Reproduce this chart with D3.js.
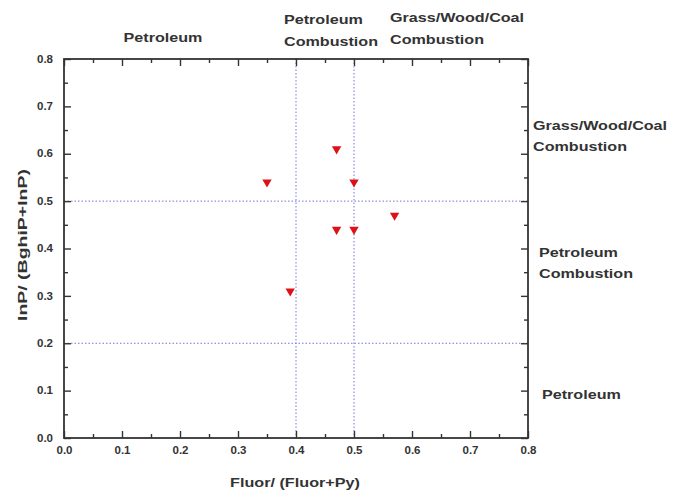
<!DOCTYPE html>
<html lang="en">
<head>
    <meta charset="UTF-8">
    <title>Fluor/(Fluor+Py) vs InP/(BghiP+InP)</title>
    <script src="https://d3js.org/d3.v7.min.js"></script>
    <style>
        body { margin: 0; background: #fff; }
        text { font-family: "Liberation Sans", Arial, sans-serif; font-weight: bold; fill: #333; }
    </style>
</head>
<body>
    <svg id="chart" width="673" height="499"></svg>
    <script>
        // ratio pairs
        const fluorRatio = [0.35, 0.39, 0.47, 0.47, 0.50, 0.50, 0.57];
        const inpRatio = [0.54, 0.31, 0.61, 0.44, 0.54, 0.44, 0.47];
        const xTicks = [0, 0.1, 0.2, 0.3, 0.4, 0.5, 0.6, 0.7, 0.8];
        const yTicks = [0, 0.1, 0.2, 0.3, 0.4, 0.5, 0.6, 0.7, 0.8];
        const xGuides = [0.4, 0.5];
        const yGuides = [0.2, 0.5];

        const svg = d3.select("#chart");
        const margin = { top: 59, right: 145, bottom: 61, left: 64 };
        const width = 673 - margin.left - margin.right;
        const height = 499 - margin.top - margin.bottom;
        const g = svg.append("g").attr("transform", `translate(${margin.left},${margin.top})`);

        const x = d3.scaleLinear().domain([0, 0.8]).range([0, width]);
        const y = d3.scaleLinear().domain([0, 0.8]).range([height, 0]);

        const minor = d3.range(0.05, 0.8, 0.1);

        // the exported figure is stretched sideways, so widen the text to match
        function stretch(sel, k) {
            sel.each(function () {
                const len = this.getComputedTextLength();
                d3.select(this).attr("textLength", len * k).attr("lengthAdjust", "spacingAndGlyphs");
            });
        }

        // guide lines
        g.selectAll(".vguide").data(xGuides).enter().append("line")
            .attr("x1", d => x(d)).attr("x2", d => x(d))
            .attr("y1", 0).attr("y2", height)
            .attr("stroke", "#7474e0").attr("stroke-width", 1).attr("stroke-dasharray", "1.5,2");
        g.selectAll(".hguide").data(yGuides).enter().append("line")
            .attr("y1", d => y(d)).attr("y2", d => y(d))
            .attr("x1", 0).attr("x2", width)
            .attr("stroke", "#7474e0").attr("stroke-width", 1).attr("stroke-dasharray", "1.5,2");

        // axes with inward ticks
        function styleAxis(sel) {
            sel.select(".domain").remove();
            sel.selectAll("line").attr("stroke", "#333").attr("stroke-width", 1.4);
            sel.selectAll("text").style("font-size", "10px").attr("fill", "#555").call(stretch, 1.15);
        }
        const fmt = d3.format(".1f");

        g.append("g").attr("transform", `translate(0,${height})`)
            .call(d3.axisBottom(x).tickValues(xTicks).tickFormat(fmt).tickSizeInner(-7).tickSizeOuter(0).tickPadding(9))
            .call(styleAxis);
        g.append("g").attr("transform", `translate(0,${height})`)
            .call(d3.axisBottom(x).tickValues(minor).tickFormat("").tickSizeInner(-4).tickSizeOuter(0))
            .call(styleAxis);
        g.append("g")
            .call(d3.axisTop(x).tickValues(xTicks).tickFormat("").tickSizeInner(-7).tickSizeOuter(0))
            .call(styleAxis);
        g.append("g")
            .call(d3.axisTop(x).tickValues(minor).tickFormat("").tickSizeInner(-4).tickSizeOuter(0))
            .call(styleAxis);

        g.append("g")
            .call(d3.axisLeft(y).tickValues(yTicks).tickFormat(fmt).tickSizeInner(-7).tickSizeOuter(0).tickPadding(11))
            .call(styleAxis);
        g.append("g")
            .call(d3.axisLeft(y).tickValues(minor).tickFormat("").tickSizeInner(-4).tickSizeOuter(0))
            .call(styleAxis);
        g.append("g").attr("transform", `translate(${width},0)`)
            .call(d3.axisRight(y).tickValues(yTicks).tickFormat("").tickSizeInner(-7).tickSizeOuter(0))
            .call(styleAxis);
        g.append("g").attr("transform", `translate(${width},0)`)
            .call(d3.axisRight(y).tickValues(minor).tickFormat("").tickSizeInner(-4).tickSizeOuter(0))
            .call(styleAxis);

        // frame
        g.append("rect")
            .attr("width", width).attr("height", height)
            .attr("fill", "none").attr("stroke", "#333").attr("stroke-width", 1.8);

        // points: down triangles
        const tri = d3.symbol().type(d3.symbolTriangle).size(38);
        g.selectAll(".pt").data(fluorRatio).enter().append("path")
            .attr("class", "pt")
            .attr("d", tri)
            .attr("transform", (d, i) => `translate(${x(d)},${y(inpRatio[i])}) rotate(180)`)
            .attr("fill", "#dc1219");

        // axis titles
        svg.append("text")
            .attr("x", margin.left + width / 2 - 1).attr("y", 487)
            .attr("text-anchor", "middle").style("font-size", "13px")
            .attr("textLength", 130).attr("lengthAdjust", "spacingAndGlyphs")
            .text("Fluor/ (Fluor+Py)");
        svg.append("text")
            .attr("transform", "translate(27,245) rotate(-90)")
            .attr("text-anchor", "middle").style("font-size", "13px")
            .attr("textLength", 152).attr("lengthAdjust", "spacingAndGlyphs")
            .text("InP/ (BghiP+InP)");

        // region labels, top
        const topLabels = [
            { text: "Petroleum", x: 163, y: 42, anchor: "middle" },
            { text: "Petroleum", x: 284, y: 24, anchor: "start" },
            { text: "Combustion", x: 284, y: 46, anchor: "start" },
            { text: "Grass/Wood/Coal", x: 390, y: 22, anchor: "start" },
            { text: "Combustion", x: 390, y: 44, anchor: "start" }
        ];
        // region labels, right
        const rightLabels = [
            { text: "Grass/Wood/Coal", x: 533, y: 130, anchor: "start" },
            { text: "Combustion", x: 533, y: 151, anchor: "start" },
            { text: "Petroleum", x: 539, y: 257, anchor: "start" },
            { text: "Combustion", x: 539, y: 278, anchor: "start" },
            { text: "Petroleum", x: 542, y: 399, anchor: "start" }
        ];
        svg.selectAll(".region").data(topLabels.concat(rightLabels)).enter().append("text")
            .attr("class", "region")
            .attr("x", d => d.x).attr("y", d => d.y)
            .attr("text-anchor", d => d.anchor)
            .style("font-size", "13px")
            .text(d => d.text)
            .call(stretch, 1.24);
    </script>
</body>
</html>
